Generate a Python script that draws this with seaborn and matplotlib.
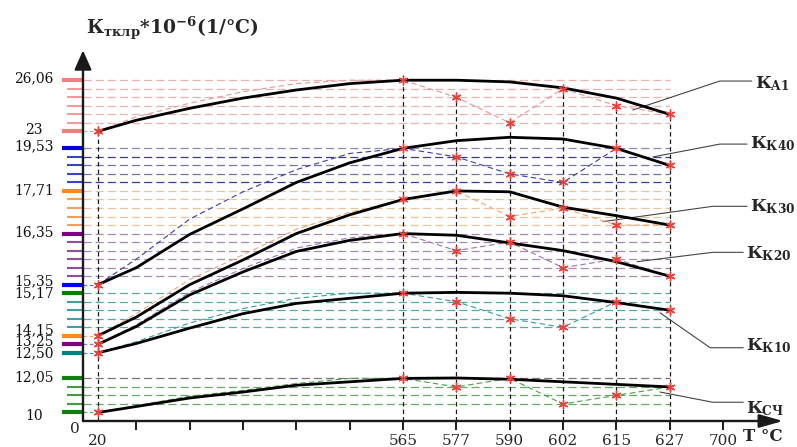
import matplotlib
matplotlib.use("Agg")
import matplotlib.pyplot as plt
import seaborn as sns

# ---------------- data ----------------
# the T axis is schematic: every labelled temperature sits on its own tick
T_LABELS = ["20", "565", "577", "590", "602", "615", "627", "700"]
T_POS = [0.28, 6, 7, 8, 9, 10, 11, 12]
TICK_POS = [1, 2, 3, 4, 5, 6, 7, 8, 9, 10, 11, 12]
# positions where the curves were read (20 °C, the blank ticks, then 565..627)
FIT_POS = [0.28, 1, 2, 3, 4, 5, 6, 7, 8, 9, 10, 11]
STAR_IDX = [0, 6, 7, 8, 9, 10, 11]

# y axis is schematic too: values are grid rows, every curve has its own band
Y_LABELS = ["26,06", "23", "19,53", "17,71", "16,35", "15,35", "15,17",
            "14,15", "13,25", "12,50", "12,05", "10"]
Y_ROWS = [40, 34, 32, 27, 22, 16, 15, 10, 9, 8, 5, 1]
Y_COLORS = ["#f07f7f", "#f07f7f", "#0000dd", "#ff8a1c", "#800080", "#0000ff",
            "#008000", "#ff8a1c", "#800080", "#008080", "#108010", "#108010"]
MINOR_ROWS = [35, 36, 37, 38, 39, 28, 29, 30, 31, 23, 24, 25, 26,
              17, 18, 19, 20, 21, 11, 12, 13, 14, 2, 3, 4]
MINOR_COLORS = ["#f09a9a"] * 5 + ["#3a46c0"] * 4 + ["#f0a060"] * 4 + \
               ["#9050a0"] * 5 + ["#40a0a0"] * 4 + ["#40a040"] * 3

# long dashed guide lines across the chart
GRID_ROWS = [35, 36, 37, 38, 39, 40, 28, 29, 30, 31, 32, 23, 24, 25, 26, 27,
             17, 18, 19, 20, 21, 22, 11, 12, 13, 14, 15, 2, 3, 4, 5]
GRID_COLORS = ["#ebb0b0"] * 6 + \
              ["#3c3c8c", "#7474aa", "#7474aa", "#3c3c8c", "#8888b8"] + \
              ["#e9c49c"] * 5 + ["#a68ab4"] * 6 + ["#5aa8a2"] * 5 + \
              ["#66aa66", "#66aa66", "#66aa66", "#777777"]
# short dashes from the axis to the 20 °C points
SHORT_ROWS = [34, 16, 10, 9, 8, 1]
SHORT_COLORS = ["#f0a0a0", "#5a7ad0", "#f0b070", "#a070b0", "#40a0a0", "#60b060"]

CURVES = ["A1", "К40", "К30", "К20", "К10", "СЧ"]
FIT = {
    "A1":  [34, 35.3, 36.7, 37.9, 38.85, 39.6, 40, 40, 39.8, 39.1, 37.9, 36],
    "К40": [16, 18.0, 21.9, 24.9, 28.0, 30.3, 32, 32.9, 33.3, 33.1, 32, 30],
    "К30": [10, 12.2, 16.0, 18.9, 22.0, 24.2, 26, 27, 26.9, 25.1, 24.1, 23],
    "К20": [9, 11.1, 14.8, 17.5, 19.9, 21.2, 22, 21.8, 20.9, 20, 18.7, 17],
    "К10": [8, 9.1, 10.9, 12.6, 13.8, 14.4, 15, 15.1, 15, 14.7, 13.9, 13],
    "СЧ":  [1, 1.7, 2.7, 3.4, 4.2, 4.6, 5, 5.05, 4.9, 4.6, 4.3, 4],
}
MEASURED = {
    "A1":  [34, 35.7, 37.3, 38.65, 39.6, 40.0, 40, 38, 35, 39, 37, 36],
    "К40": [16, 19.0, 23.7, 26.9, 29.5, 31.4, 32, 31, 29, 28, 32, 30],
    "К30": [10, 12.6, 16.6, 19.5, 22.5, 24.5, 26, 27, 24, 25, 23, 23],
    "К20": [9, 11.3, 15.1, 17.9, 20.3, 21.5, 22, 20, 21, 18, 19, 17],
    "К10": [8, 9.3, 11.5, 13.2, 14.4, 15.0, 15, 14, 12, 11, 14, 13],
    "СЧ":  [1, 1.8, 2.9, 3.6, 4.4, 5.0, 5, 4, 5, 2, 3, 4],
}
CURVE_COLORS = ["#e79a9a", "#3c3ca6", "#eaa878", "#a070aa", "#3a9a9a", "#4aa04a"]

# leader lines to the curve names: start, elbow, end
LEADERS = [
    [(10.31, 36.5), (11.94, 39.9), (12.54, 39.9)],
    [(10.69, 31.0), (11.94, 32.5), (12.45, 32.5)],
    [(9.75, 23.4), (11.81, 25.2), (12.45, 25.2)],
    [(10.39, 18.7), (11.81, 19.8), (12.38, 19.8)],
    [(10.82, 12.7), (11.76, 8.6), (12.38, 8.6)],
    [(10.82, 3.4), (11.81, 2.2), (12.38, 2.2)],
]
NAME_ROWS = [39.6, 32.6, 25.1, 19.6, 8.9, 1.5]

# ---------------- style ----------------
sns.set_theme(style="white")
plt.rcParams['font.family'] = ['DejaVu Serif', 'DejaVu Sans']
plt.rcParams['mathtext.fontset'] = 'dejavuserif'

PX_X = 53.33   # pixels per tick
PX_Y = 8.52    # pixels per grid row
# small nudges so the stacked labels sit like in the picture
LABEL_NUDGE = [0.2, 0.2, 0.2, 0.1, 0.1, 0.35, -0.05, 0.6, 0.4, 0.0, 0.1, -0.4]


def draw():
    fig = plt.figure(figsize=(7.97, 4.47), dpi=100)
    ax = fig.add_axes([0, 0, 1, 1])
    ax.set_xlim(-83 / PX_X, (797 - 83) / PX_X)
    ax.set_ylim(-(447 - 421) / PX_Y, 421 / PX_Y)
    ax.axis("off")

    # guide lines
    for r, c in zip(GRID_ROWS, GRID_COLORS):
        ax.hlines(r, 0, T_POS[6], colors=c, lw=0.9, linestyles=(0, (6.5, 3.2)), zorder=1)
    for r, c in zip(SHORT_ROWS, SHORT_COLORS):
        ax.hlines(r, 0, T_POS[0], colors=c, lw=0.9, linestyles=(0, (3, 2)), zorder=1)

    # verticals from the A1 points down to the axis
    top = [MEASURED["A1"][i] for i in STAR_IDX]
    ax.vlines(T_POS[:7], 0, top, colors="k", lw=0.9, linestyles=(0, (3.5, 2.5)), zorder=2)

    # y ticks
    ax.hlines(Y_ROWS, -21 / PX_X, 0, colors=Y_COLORS, lw=3.0, zorder=3)
    ax.hlines(MINOR_ROWS, -16 / PX_X, 0, colors=MINOR_COLORS, lw=1.5, zorder=3)
    for lab, r, d in zip(Y_LABELS, Y_ROWS, LABEL_NUDGE):
        ax.text(-49 / PX_X, r + d, lab, ha="center", va="center", fontsize=10, color="#111111")

    # curves
    for name, col in zip(CURVES, CURVE_COLORS):
        sns.lineplot(x=FIT_POS, y=MEASURED[name], ax=ax, color=col, lw=0.8,
                     linestyle=(0, (5, 3)), sort=False, estimator=None, zorder=4)
        sns.lineplot(x=FIT_POS, y=FIT[name], ax=ax, color="black", lw=2.0,
                     sort=False, estimator=None, zorder=5)
        sns.scatterplot(x=[FIT_POS[i] for i in STAR_IDX],
                        y=[MEASURED[name][i] for i in STAR_IDX],
                        ax=ax, marker=(6, 2, 0), s=40, color="#e8413c",
                        linewidth=1.0, zorder=6)

    # axes with arrows
    ax.annotate("", xy=(0, 43.5), xytext=(0, 0),
                arrowprops=dict(arrowstyle="-|>,head_length=0.45,head_width=0.2",
                                lw=1.7, color="k", mutation_scale=26,
                                shrinkA=0, shrinkB=0), zorder=7)
    ax.annotate("", xy=(700 / PX_X, 0), xytext=(0, 0),
                arrowprops=dict(arrowstyle="-|>,head_length=0.6,head_width=0.17",
                                lw=1.7, color="k", mutation_scale=24,
                                shrinkA=0, shrinkB=0), zorder=7)
    ax.vlines(TICK_POS, -9 / PX_Y, 0, colors="k", lw=1.4, zorder=7)

    # x labels
    ax.text(-8 / PX_X, -0.95, "0", ha="center", va="center", fontsize=11)
    for lab, p in zip(T_LABELS, T_POS):
        ax.text(p, -2.4, lab, ha="center", va="center", fontsize=11)
    ax.text(12.75, -1.85, "T °C", ha="center", va="center", fontsize=12, fontweight="bold")

    # title of the y axis
    ax.text(89 / PX_X, 46.1, r"$\mathbf{К}_{\mathbf{тклр}}$*10$^{\mathbf{-6}}$(1/°C)",
            ha="center", va="center", fontsize=13.5, fontweight="bold")

    # curve names
    for name, pts, r in zip(CURVES, LEADERS, NAME_ROWS):
        xs = [p[0] for p in pts]
        ys = [p[1] for p in pts]
        ax.plot(xs, ys, color="#444444", lw=0.8, zorder=3)
        ax.text(pts[2][0] + 0.06, r, r"$\mathbf{К}_{\mathbf{" + name + "}}$",
                ha="left", va="center", fontsize=12.5)

    fig.savefig("out.png", dpi=100)


if __name__ == "__main__":
    draw()
